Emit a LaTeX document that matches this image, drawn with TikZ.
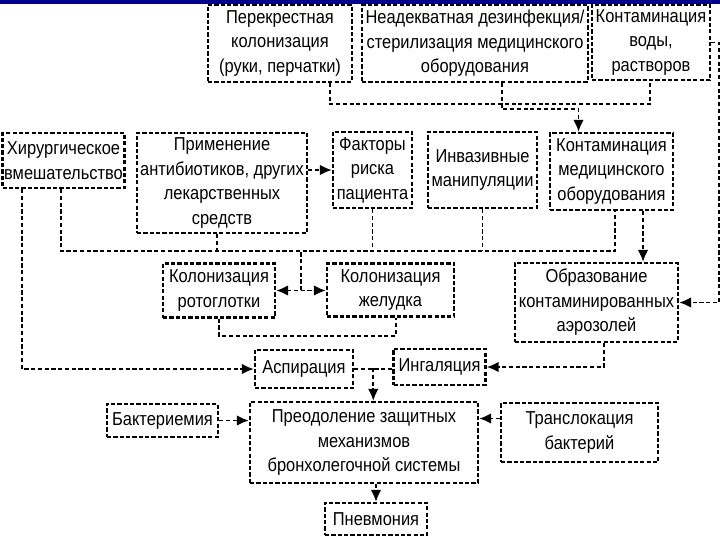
\documentclass[tikz,border=0pt]{standalone}
\usepackage{fontspec}
\setmainfont{Liberation Sans}[FakeStretch=0.88]
\usetikzlibrary{arrows.meta, calc}
\definecolor{slideblue}{RGB}{0,0,140}

\begin{document}
\begin{tikzpicture}[
      x=0.025cm, y=-0.025cm,
      box/.style={rectangle, draw, line width=1.6pt, dash pattern=on 3pt off 1.5pt, align=center, fill=white, inner sep=1pt, font=\fontsize{13.3}{17.4}\selectfont},
      sz/.style 2 args={minimum width=#1*0.025cm, minimum height=#2*0.025cm},
      link/.style={line width=1.4pt, dash pattern=on 3pt off 1.8pt},
      arrow/.style={link, -{Latex[length=8.5pt,width=7.5pt]}},
      biarrow/.style={link, {Latex[length=8.5pt,width=7.5pt]}-{Latex[length=8.5pt,width=7.5pt]}}
    ]
    \useasboundingbox (0,0) rectangle (720,540);
    \fill[slideblue] (0,0) rectangle (720,4);

    % top row
    \node[box, sz={144}{77}] (krest) at (280,43.5) {Перекрестная\\колонизация\\(руки, перчатки)};
    \node[box, sz={226}{77}] (dezinf) at (475,43.5) {Неадекватная дезинфекция/\\стерилизация медицинского\\оборудования};
    \node[box, sz={118}{75}] (voda) at (651,42.5) {Контаминация\\воды,\\растворов};

    % second row
    \node[box, sz={122}{55}] (hirurg) at (63.5,160.5) {Хирургическое\\вмешательство};
    \node[box, sz={170}{100}] (antib) at (222,183) {Применение\\антибиотиков, других\\лекарственных\\средств};
    \node[box, sz={79}{76}] (faktor) at (372.5,170) {Факторы\\риска\\пациента};
    \node[box, sz={109}{76}] (invaz) at (482.5,170) {Инвазивные\\манипуляции};
    \node[box, sz={123}{77}] (kontmed) at (611.5,171.5) {Контаминация\\медицинского\\оборудования};

    % colonisation, aerosols
    \node[box, sz={112}{54}] (rotoglot) at (219,290.5) {Колонизация\\ротоглотки};
    \node[box, sz={127}{53}] (zheludok) at (390.5,290) {Колонизация\\желудка};
    \node[box, sz={163}{79}] (aerozol) at (596.5,302.5) {Образование\\контаминированных\\аэрозолей};

    % lower part
    \node[box, sz={98}{38}] (aspir) at (304,369) {Аспирация};
    \node[box, sz={92}{36}] (ingal) at (439.5,367) {Ингаляция};
    \node[box, sz={111}{33}] (bakter) at (162.5,420.5) {Бактериемия};
    \node[box, sz={228}{81}] (preodol) at (364,442.5) {Преодоление защитных\\механизмов\\бронхолегочной системы};
    \node[box, sz={157}{59}] (transl) at (579.5,432.5) {Транслокация\\бактерий};
    \node[box, sz={102}{32}] (pnevm) at (376,519) {Пневмония};

    % connectors
    \draw[link] ($(krest.south)+(50,0)$) |- ($(voda.south)+(-1,23)$) -- ($(voda.south)+(-1,0)$);
    \draw[arrow] ($(dezinf.south)+(27,0)$) |- ($(kontmed.north)+(-33,-23)$) -- ($(kontmed.north)+(-33,0)$);
    \draw[arrow] (voda.east) -- ++(8,0) |- (aerozol.east);
    \draw[arrow] (antib.east |- faktor.west) -- (faktor.west);

    \draw[arrow] ($(hirurg.south)+(-41.5,0)$) |- (aspir.west);
    \draw[link] ($(hirurg.south)+(-2.5,0)$) |- ($(kontmed.south)+(3.5,40)$) -- ($(kontmed.south)+(3.5,0)$);
    \draw[link] ($(antib.south)+(-5,0)$) -- ++(0,17);
    \draw[link] (faktor.south) -- ++(0,42);
    \draw[link] (invaz.south) -- ++(0,42);
    \draw[arrow] ($(kontmed.south)+(31.5,0)$) -- ($(aerozol.north)+(46.5,0)$);

    \draw[biarrow] (rotoglot.east) -- (rotoglot.east -| zheludok.west);
    \draw[link] ($(rotoglot.east)!0.5!(zheludok.west)$) -- ++(0,-40);
    \draw[link] (rotoglot.south) -- ++(0,17) -| ($(zheludok.south)+(5.5,0)$);

    \draw[arrow] ($(aerozol.south)+(7.5,0)$) |- (ingal.east);
    \draw[link] (aspir.east) -- (aspir.east -| ingal.west);
    \coordinate (mid) at ($(aspir.east)!0.5!(ingal.west)$);
    \draw[arrow] (mid) -- (mid |- preodol.north);
    \draw[arrow] (bakter.east) -- (bakter.east -| preodol.west);
    \coordinate (tl) at ($(transl.west)+(0,-14)$);
    \draw[arrow] (tl) -- (tl -| preodol.east);
    \draw[arrow] (pnevm.north |- preodol.south) -- (pnevm.north);
  \end{tikzpicture}
\end{document}
